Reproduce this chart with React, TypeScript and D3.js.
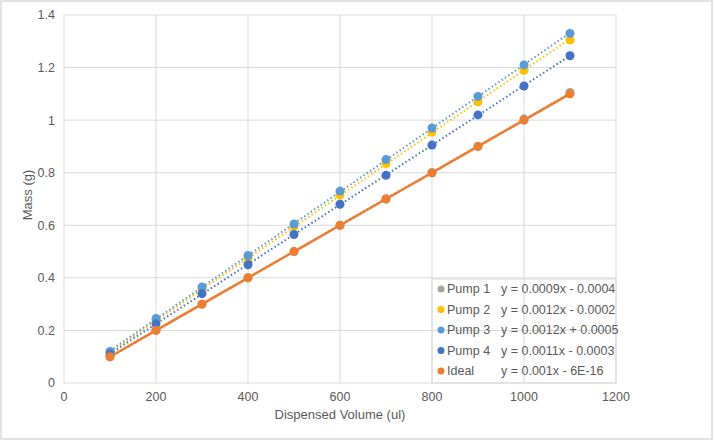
import React from "react";
import * as d3 from "d3";

const volumes = [100, 200, 300, 400, 500, 600, 700, 800, 900, 1000, 1100];
const pump1 = [0.1, 0.2, 0.3, 0.4, 0.5, 0.6, 0.7, 0.8, 0.9, 1.005, 1.105];
const pump2 = [0.115, 0.235, 0.355, 0.475, 0.595, 0.715, 0.835, 0.955, 1.07, 1.19, 1.305];
const pump3 = [0.12, 0.245, 0.365, 0.485, 0.605, 0.73, 0.85, 0.97, 1.09, 1.21, 1.33];
const pump4 = [0.11, 0.225, 0.34, 0.45, 0.565, 0.68, 0.79, 0.905, 1.02, 1.13, 1.245];
const ideal = [0.1, 0.2, 0.3, 0.4, 0.5, 0.6, 0.7, 0.8, 0.9, 1.0, 1.1];

const seriesNames = ["Pump 1", "Pump 2", "Pump 3", "Pump 4", "Ideal"];
const equations = [
  "y = 0.0009x - 0.0004",
  "y = 0.0012x - 0.0002",
  "y = 0.0012x + 0.0005",
  "y = 0.0011x - 0.0003",
  "y = 0.001x - 6E-16",
];
const colors = ["#A5A5A5", "#FFC000", "#5B9BD5", "#4472C4", "#ED7D31"];
const xTicks = [0, 200, 400, 600, 800, 1000, 1200];
const yTicks = [0, 0.2, 0.4, 0.6, 0.8, 1, 1.2, 1.4];

const W = 714;
const H = 441;
const font = "'Liberation Sans', Arial, sans-serif";
const textColor = "#595959";

function regress(xs: number[], ys: number[]) {
  const mx = d3.mean(xs)!;
  const my = d3.mean(ys)!;
  let num = 0, den = 0;
  xs.forEach((x, i) => {
    num += (x - mx) * (ys[i] - my);
    den += (x - mx) * (x - mx);
  });
  const m = num / den;
  return { m, b: my - m * mx };
}

export default function App() {
  const x = d3.scaleLinear().domain([0, 1200]).range([64, 616]);
  const y = d3.scaleLinear().domain([0, 1.4]).range([383, 15]);
  const all = [pump1, pump2, pump3, pump4, ideal];
  const line = d3
    .line<number>()
    .x((_, i) => x(volumes[i]))
    .y((d) => y(d));

  const legendX = 432;
  const legendY = 279;
  const rowH = 20.5;

  return (
    <svg
      width={W}
      height={H}
      style={{ position: "absolute", left: 0, top: 0, background: "#fff" }}
    >
      <rect x={1} y={1} width={711} height={438} fill="#fff" stroke="#D9D9D9" strokeWidth={1.5} />
      {/* gridlines */}
      {yTicks.map((t) => (
        <line key={"gy" + t} x1={x(0)} x2={x(1200)} y1={y(t)} y2={y(t)} stroke="#D9D9D9" strokeWidth={1} />
      ))}
      {xTicks.map((t) => (
        <line key={"gx" + t} x1={x(t)} x2={x(t)} y1={y(0)} y2={y(1.4)} stroke="#D9D9D9" strokeWidth={1} />
      ))}
      {/* tick labels */}
      {yTicks.map((t) => (
        <text key={"ty" + t} x={55} y={y(t)} dy="0.35em" textAnchor="end" fontFamily={font} fontSize={12.5} fill={textColor}>
          {d3.format("~g")(t)}
        </text>
      ))}
      {xTicks.map((t) => (
        <text key={"tx" + t} x={x(t)} y={397} dy="0.35em" textAnchor="middle" fontFamily={font} fontSize={12.5} fill={textColor}>
          {t}
        </text>
      ))}
      <text x={340} y={414} dy="0.35em" textAnchor="middle" fontFamily={font} fontSize={13} fill={textColor}>
        Dispensed Volume  (ul)
      </text>
      <text
        transform={`translate(27,${195}) rotate(-90)`}
        dy="0.35em"
        textAnchor="middle"
        fontFamily={font}
        fontSize={13}
        fill={textColor}
      >
        Mass (g)
      </text>
      {/* trendlines */}
      {all.map((ys, si) => {
        const { m, b } = regress(volumes, ys);
        return (
          <line
            key={"tr" + si}
            x1={x(100)}
            x2={x(1100)}
            y1={y(m * 100 + b)}
            y2={y(m * 1100 + b)}
            stroke={colors[si]}
            strokeWidth={2}
            strokeDasharray="1.5,2.5"
          />
        );
      })}
      {/* ideal connecting line */}
      <path d={line(ideal) || ""} fill="none" stroke={colors[4]} strokeWidth={2.5} />
      {/* markers */}
      {all.map((ys, si) => (
        <g key={"m" + si}>
          {ys.map((v, i) => (
            <circle key={i} cx={x(volumes[i])} cy={y(v)} r={4.5} fill={colors[si]} />
          ))}
        </g>
      ))}
      {/* legend */}
      <rect x={legendX} y={legendY} width={616 - legendX} height={383 - legendY} fill="none" stroke="#D9D9D9" />
      {seriesNames.map((n, i) => (
        <g key={"lg" + i}>
          <circle cx={441} cy={legendY + 10 + i * rowH} r={3.5} fill={colors[i]} />
          <text x={447} y={legendY + 10 + i * rowH} dy="0.35em" fontFamily={font} fontSize={12.5} fill={textColor}>
            {n}
          </text>
          <text x={501} y={legendY + 10 + i * rowH} dy="0.35em" fontFamily={font} fontSize={12.5} fill={textColor}>
            {equations[i]}
          </text>
        </g>
      ))}
    </svg>
  );
}
